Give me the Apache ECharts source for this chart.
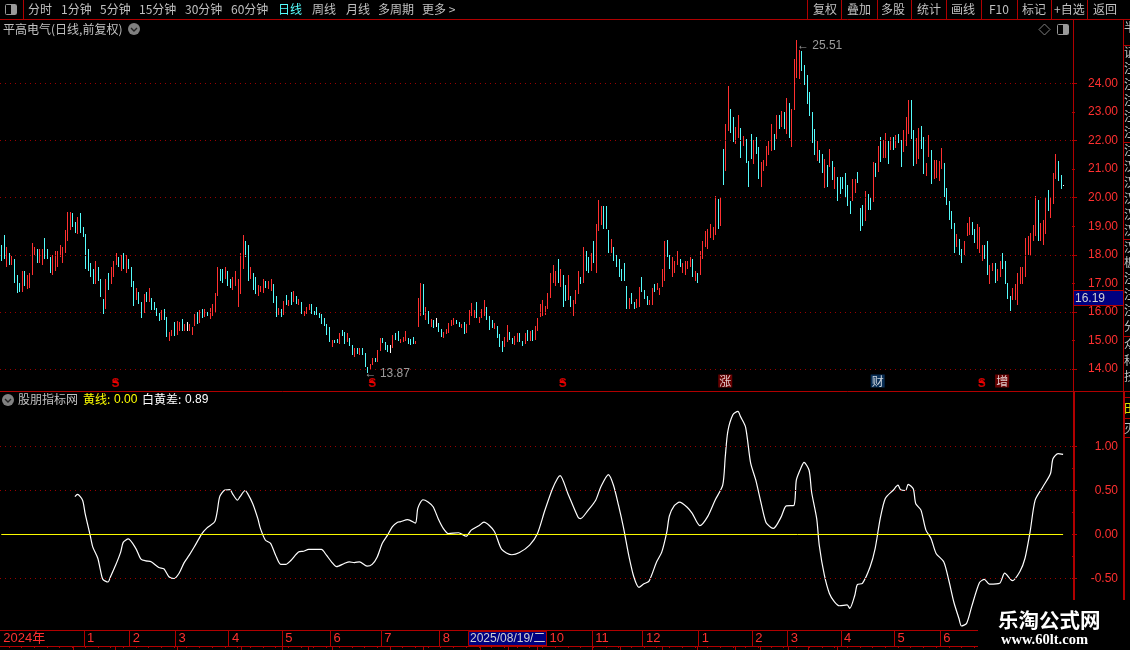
<!DOCTYPE html>
<html>
<head>
<meta charset="utf-8">
<style>html,body{margin:0;padding:0;background:#000;overflow:hidden}#c{width:1130px;height:650px}</style>
<script src="https://cdn.jsdelivr.net/npm/echarts@6/dist/echarts.min.js"></script>
</head>
<body>
<div id="c"></div>
<script>
const highs = [18.35,18.71,18.26,18.05,17.95,17.87,17.28,17.03,17.42,17.45,17.28,17.38,18.43,18.29,18.19,18.22,18.22,18.60,18.19,17.94,17.98,18.15,18.12,18.33,18.29,18.88,19.51,19.51,19.48,19.16,19.34,19.48,18.99,18.74,18.22,17.73,17.49,17.77,17.59,17.14,16.44,17.17,17.35,17.56,17.77,18.08,17.91,18.01,18.08,17.98,17.87,17.56,17.07,16.83,16.69,16.34,16.62,16.69,16.83,16.48,16.34,16.13,15.95,16.06,16.09,15.81,15.29,15.36,15.64,15.67,15.64,15.74,15.57,15.64,15.57,15.47,15.92,16.01,16.06,16.09,16.09,15.99,16.13,16.27,16.65,17.59,17.49,17.49,17.59,17.45,17.14,17.24,17.45,17.17,18.05,18.71,18.50,18.36,17.56,17.38,17.21,16.93,16.90,17.17,17.07,17.10,17.17,16.97,16.55,16.13,16.09,16.37,16.58,16.41,16.69,16.72,16.55,16.44,16.34,16.02,16.16,16.27,16.27,16.02,16.16,15.95,15.92,15.78,15.57,15.47,15.01,15.01,15.05,15.26,15.36,15.29,15.26,15.08,14.84,14.73,14.73,14.73,14.73,14.56,14.07,14.17,14.38,14.38,14.66,15.08,15.08,14.94,14.84,14.84,15.19,15.26,15.33,15.05,15.12,15.33,15.08,15.05,15.12,14.98,16.48,17.00,16.97,16.16,16.02,15.74,15.71,15.78,15.60,15.40,15.29,15.40,15.60,15.71,15.78,15.71,15.64,15.57,15.64,15.57,16.06,16.30,16.06,16.34,15.81,16.09,16.41,16.16,15.85,15.71,15.60,15.50,15.22,14.98,15.12,15.53,15.29,15.08,15.15,15.26,15.26,14.98,15.26,15.36,15.33,15.36,15.50,15.78,16.27,16.41,16.20,16.65,17.35,17.63,17.45,17.87,17.52,17.31,16.93,17.31,16.55,16.41,16.76,17.45,17.21,18.29,18.12,17.94,18.05,18.50,19.09,19.93,19.72,19.72,19.72,18.88,18.57,18.29,17.98,17.87,17.49,17.73,16.90,16.48,16.65,16.34,16.44,16.86,17.21,16.76,16.55,16.41,16.83,16.97,17.03,16.83,17.52,18.47,18.53,17.98,17.94,17.80,18.12,17.84,17.70,17.80,17.80,17.94,17.84,17.45,17.38,18.15,18.50,18.85,18.92,19.09,18.99,20.07,19.97,20.00,21.71,22.58,23.91,23.10,22.83,22.48,22.90,22.44,22.16,22.06,21.29,22.23,22.02,22.13,21.78,21.26,21.33,21.81,21.99,22.58,22.23,22.90,22.90,23.03,23.00,23.49,23.31,23.10,24.85,25.51,25.16,25.13,24.64,24.29,23.70,23.00,22.41,21.99,21.67,21.53,21.36,21.15,21.71,21.29,21.08,20.73,20.73,20.73,20.87,20.45,19.90,20.66,20.66,20.91,19.65,19.76,20.24,20.14,20.00,21.26,21.22,21.81,22.13,22.02,22.27,21.99,22.13,22.13,22.20,22.23,22.02,22.37,22.83,23.42,23.42,22.37,22.09,22.44,22.51,22.13,21.22,22.20,21.67,21.33,21.33,21.29,21.74,21.22,20.35,19.90,19.55,19.13,18.74,18.57,18.19,18.47,19.13,19.34,19.16,18.92,19.09,18.99,18.36,18.33,18.47,17.63,17.73,17.73,17.49,17.77,18.08,17.80,17.00,16.55,16.83,16.97,17.35,17.56,17.56,18.60,18.67,18.78,19.06,20.07,19.93,19.13,19.23,20.00,20.28,20.00,20.87,21.53,21.29,20.80,20.45];
const lows = [17.80,17.84,17.59,17.63,17.63,17.03,16.65,16.69,16.69,16.90,16.79,16.83,17.28,18.01,17.73,17.73,17.66,17.87,17.87,17.38,17.31,17.42,17.56,17.91,17.73,18.05,18.47,18.88,18.99,18.78,18.74,18.78,18.64,17.52,17.45,17.24,16.97,16.97,17.10,16.51,15.92,16.09,16.76,16.97,17.24,17.66,17.59,17.45,17.49,17.38,17.49,16.86,16.20,16.41,16.27,15.78,15.95,16.34,16.34,16.06,16.06,15.85,15.67,15.71,15.71,15.12,14.98,15.15,15.15,15.19,15.33,15.33,15.33,15.33,15.33,15.19,15.50,15.57,15.60,15.78,15.81,15.85,15.74,15.85,15.95,16.55,17.10,17.00,17.17,16.90,16.83,16.76,16.90,16.16,16.62,17.49,17.91,17.07,17.17,16.76,16.62,16.55,16.69,16.65,16.83,16.79,16.72,16.30,15.81,15.88,15.81,15.88,16.23,16.20,16.23,16.34,16.27,16.23,15.92,15.85,15.92,16.06,15.92,15.88,15.88,15.78,15.57,15.50,15.19,14.94,14.77,14.91,14.91,14.87,15.15,14.87,14.94,14.80,14.49,14.42,14.52,14.49,14.49,14.07,13.87,13.97,14.14,14.24,14.24,14.63,14.91,14.66,14.59,14.56,14.73,15.01,14.98,14.91,14.94,14.98,14.87,14.84,14.87,14.87,15.47,15.85,15.88,15.71,15.57,15.47,15.43,15.47,15.29,15.12,15.08,15.22,15.26,15.50,15.53,15.57,15.47,15.43,15.22,15.26,15.53,15.85,15.78,15.78,15.60,15.78,15.85,15.71,15.36,15.43,15.40,15.08,14.77,14.59,14.77,14.94,15.01,14.87,14.84,14.94,14.94,14.80,14.87,14.98,14.98,14.98,15.01,15.33,15.81,15.85,15.88,16.09,16.48,17.03,16.90,17.03,16.86,16.17,16.37,16.41,16.17,15.85,16.27,16.62,16.97,17.03,17.45,17.38,17.45,17.73,17.35,18.85,19.06,18.92,18.92,18.08,18.08,17.80,17.56,17.24,17.10,17.07,16.09,16.09,16.27,16.09,16.13,16.16,16.69,16.44,16.23,16.23,16.23,16.69,16.76,16.58,16.86,17.10,17.91,17.52,17.24,17.38,17.66,17.56,17.35,17.31,17.49,17.56,17.21,17.10,17.03,17.31,17.87,18.29,18.19,18.60,18.53,18.71,18.92,19.02,20.45,20.94,22.34,22.27,21.95,21.88,22.09,21.40,21.81,21.22,20.38,21.36,21.19,21.53,20.66,20.38,20.94,21.12,21.50,21.64,21.67,22.06,22.41,22.48,22.41,22.23,22.09,21.78,23.09,24.21,24.15,24.43,23.94,23.28,22.87,21.92,21.50,21.29,21.22,20.87,20.35,20.38,21.08,20.63,20.31,19.90,20.14,20.31,20.03,19.72,19.44,19.90,20.17,20.52,18.85,19.02,19.20,19.58,19.58,19.86,20.73,20.91,21.26,21.40,21.40,21.19,21.67,21.67,21.74,21.92,21.08,21.60,21.81,22.23,22.06,21.12,21.19,21.36,21.71,20.84,20.77,21.43,20.49,20.66,20.70,20.59,21.01,20.03,19.76,19.23,18.92,18.05,18.29,18.01,17.70,17.98,18.67,18.71,18.71,18.43,18.19,18.08,17.77,17.87,17.31,16.97,17.42,17.00,17.10,17.24,17.49,16.97,16.44,16.02,16.41,16.41,16.23,16.97,16.97,17.24,18.01,18.01,18.47,18.67,18.50,18.50,18.36,18.74,19.55,19.30,19.79,20.66,20.59,20.31,20.41];
// Bars drawn white and bars drawn cyan; every other bar is red.
const whiteBars = [73,153,171,418];
const cyanBars = [0,1,3,5,6,7,9,14,17,18,19,28,29,31,32,33,34,35,36,38,39,40,42,46,48,50,51,52,54,55,57,59,60,61,62,64,65,68,71,77,79,81,86,87,89,90,96,97,99,100,104,107,108,110,112,114,116,118,122,123,124,125,126,127,128,129,131,132,134,135,137,138,140,142,143,144,147,150,151,152,155,156,160,161,162,166,168,170,172,173,179,180,182,187,191,192,193,195,196,197,200,201,204,205,207,209,219,221,222,224,228,230,231,233,237,238,239,241,242,243,244,245,246,248,249,252,253,254,257,262,263,267,272,274,282,284,287,288,291,293,294,295,297,298,304,306,308,310,315,316,317,318,319,320,322,323,325,327,329,330,331,332,333,334,337,338,339,341,342,344,346,349,351,353,354,358,359,362,363,366,371,372,373,374,375,377,378,382,383,387,388,391,394,395,396,397,408,412,416,417];
const signalBars = [45,146,221,285,345,386,394];
const signalTexts = ["S","S","S","涨","财","S","增"];
const extremeBars = [313,144];
const extremePrices = [25.51,13.87];
const priceLabels = [14,15,16,17,18,19,20,21,22,23,24];
const priceGuides = [14,16,18,20,22,24];
// Indicator, read at the visible vertices of the white line
const whiteBarsIdx = [29,30,32,33,35,36,38,39,40,42,43,45,47,48,50,53,55,57,59,62,64,66,68,70,72,74,76,79,81,84,85,86,88,90,91,93,94,96,97,99,101,102,104,106,108,110,112,114,117,119,121,126,128,130,132,135,137,139,141,144,146,148,150,152,154,156,157,160,163,164,166,168,170,172,174,176,180,183,185,188,190,194,197,201,204,208,211,214,217,219,220,223,227,228,231,234,236,239,241,243,245,247,249,251,253,255,258,260,262,263,265,267,270,272,275,278,281,284,285,286,288,290,291,293,295,297,299,301,303,304,307,309,312,313,315,316,318,319,321,322,324,326,328,330,333,334,336,337,339,342,344,346,348,351,353,354,356,357,359,360,362,364,366,368,371,373,375,377,378,380,382,385,387,389,393,395,398,401,403,405,407,410,413,414,416,418];
const whiteValues = [.43,.455,.39,.24,-.01,-.14,-.27,-.40,-.51,-.54,-.48,-.35,-.20,-.09,-.05,-.16,-.28,-.30,-.31,-.375,-.39,-.48,-.50,-.44,-.32,-.235,-.14,.01,.075,.145,.26,.43,.505,.51,.465,.39,.43,.50,.465,.35,.18,.07,-.065,-.10,-.235,-.34,-.34,-.295,-.20,-.19,-.17,-.17,-.235,-.31,-.365,-.33,-.31,-.32,-.31,-.36,-.34,-.255,-.10,-.01,.09,.14,.144,.17,.13,.30,.395,.37,.315,.18,.07,.01,.02,-.02,.05,.10,.14,.04,-.17,-.23,-.205,-.12,.005,.275,.52,.64,.67,.47,.20,.18,.275,.39,.54,.68,.56,.33,.07,-.235,-.48,-.60,-.56,-.53,-.31,-.20,.03,.21,.33,.367,.31,.24,.10,.20,.39,.56,.88,1.17,1.36,1.40,1.34,1.22,.81,.62,.37,.14,.08,.07,.20,.325,.33,.62,.77,.82,.73,.48,.18,-.12,-.46,-.67,-.765,-.81,-.80,-.84,-.69,-.57,-.555,-.37,-.16,.18,.41,.50,.56,.51,.50,.57,.52,.35,.28,.05,-.045,-.215,-.31,-.52,-.77,-.955,-1.04,-1.01,-.82,-.55,-.51,-.565,-.555,-.44,-.525,-.42,-.27,.03,.39,.54,.69,.86,.92,.91];
const yellowBars = [0,418];
const yellowValues = [0,0];
const indicatorLabels = [-0.5,0,0.5,1];
const indicatorMinorTicks = [-0.25,0.25,0.75];
const indicatorGuides = [-0.5,0.5,1];
// Time strip
const monthBars = [0,33,51,69,90,111,130,150,173,215,233,253,275,296,310,331,352,370];
const monthNames = ["2024年","1","2","3","4","5","6","7","8","10","11","12","1","2","3","4","5","6"];
const leftMenu = [["分时",28],["1分钟",61],["5分钟",100],["15分钟",139],["30分钟",185],["60分钟",231],["日线",278],["周线",312],["月线",346],["多周期",378],["更多 >",422]];
const rightMenu = [["复权",813],["叠加",847],["多股",881],["统计",917],["画线",951],["F10",989],["标记",1022],["+自选",1054],["返回",1093]];

const RED='#ff3030',CY='#54fcfc',LN='#b00000',GUIDE='#9a0000',GR='#c0c0c0';
const TOTAL=422;
const cats=[];for(let i=0;i<TOTAL;i++)cats.push(String(i));
const timeCats=cats.map((c,i)=>{const k=monthBars.indexOf(i);return k<0?'':monthNames[k];});
const cyanSet=new Set(cyanBars),whiteSet=new Set(whiteBars);
const barColor=i=>whiteSet.has(i)?'#ffffff':cyanSet.has(i)?CY:RED;
const barData=highs.map((h,i)=>[i,lows[i],h]);
const guide=(arr)=>({silent:true,symbol:'none',animation:false,label:{show:false},
  lineStyle:{color:GUIDE,type:[1,4],width:1},data:arr.map(v=>({yAxis:v}))});

function T(text,x,y,color,size,extra){return {type:'text',z:120,silent:true,
  style:Object.assign({text,x,y,fill:color||GR,font:(size||12)+'px "Noto Sans CJK SC","Liberation Sans"',verticalAlign:'middle'},extra||{})};}
function L(x1,y1,x2,y2,c,w){return{type:'line',z:110,silent:true,shape:{x1,y1,x2,y2},style:{stroke:c||LN,lineWidth:w||1}};}
function R(x,y,w,h,f,s,z){return{type:'rect',z:z||105,silent:true,shape:{x,y,width:w,height:h},style:{fill:f,stroke:s||null,lineWidth:1}};}
const g=[];
// toolbar
g.push(R(0,0,1130,19,'#000'));
g.push(L(0,19.5,1130,19.5));
g.push(L(23.5,0,23.5,19));
[807,841,877,911,946,981,1017,1051,1087].forEach(x=>g.push(L(x+.5,0,x+.5,19)));
g.push({type:'rect',z:120,silent:true,shape:{x:5.5,y:4.5,width:11,height:10,r:1},style:{fill:'#000',stroke:'#999'}});
g.push(R(11,5,5,9,'#999',null,121));
leftMenu.forEach(m=>g.push(T(m[0],m[1],9.5,m[0]==='日线'?'#55ffff':GR)));
rightMenu.forEach(m=>g.push(T(m[0],m[1],9.5,GR)));
// titles
g.push(T('平高电气(日线,前复权)',3,29.5,GR));
g.push({type:'circle',z:120,silent:true,shape:{cx:134,cy:29,r:6},style:{fill:'#808080'}});
g.push({type:'polyline',z:121,silent:true,shape:{points:[[131,28],[134,31],[137,28]]},style:{stroke:'#222',fill:null,lineWidth:1.4}});
g.push({type:'polygon',z:120,silent:true,shape:{points:[[1044.5,24],[1050,29.5],[1044.5,35],[1039,29.5]]},style:{stroke:'#808080',fill:null}});
g.push({type:'rect',z:120,silent:true,shape:{x:1057.5,y:24.5,width:11,height:10,r:1},style:{fill:'#000',stroke:'#999'}});
g.push(R(1063,25,5,9,'#999',null,121));
g.push({type:'circle',z:120,silent:true,shape:{cx:8,cy:400,r:6},style:{fill:'#808080'}});
g.push({type:'polyline',z:121,silent:true,shape:{points:[[5,399],[8,402],[11,399]]},style:{stroke:'#222',fill:null,lineWidth:1.4}});
g.push(T('股朋指标网',18,399.5,GR));
g.push(T('黄线:',83,399.5,'#ffff00'));
g.push(T('0.00',114,399.5,'#ffff00',12,{font:'12px "Liberation Sans"'}));
g.push(T('白黄差:',142,399.5,'#fff'));
g.push(T('0.89',185,399.5,'#fff',12,{font:'12px "Liberation Sans"'}));
// panel frame
g.push(L(0,391.5,1130,391.5));
g.push(L(1073.5,19,1073.5,391));
g.push(L(1074,391,1074,600,LN,2));
g.push(L(1123.5,19,1123.5,391));
g.push(L(1124,391,1124,600,LN,2));
// side strip
[45,142,239,336,397,418,437].forEach(y=>g.push(L(1123,y+.5,1130,y+.5)));
const sideRows=[27,52,68,84,100,116,132,150,166,182,198,214,230,247,262,278,294,310,326,344,360,376];
const sideChars="半证注注注注注注汉汉汉汉汉汉板注注注分众科技".split('');
sideRows.forEach((y,i)=>g.push(T(sideChars[i%sideChars.length],1124,y,GR)));
g.push(T('田',1124,408,'#e0e000'));
g.push(T('灭',1124,428,GR));
// current price tag
g.push(R(1073.5,290.5,50,15,'#000080',LN,112));
g.push(T('16.19',1075,298.5,'#d0d0d0',12,{font:'12px "Liberation Sans"'}));
// time strip frame + cursor
g.push(L(0,630.5,978,630.5));
g.push(L(0,646.5,978,646.5));
[73,115,177,241,282,308,332,390,423,480,508,537,592,620,662,697,735,760,788,808,837].forEach(x=>g.push(L(x+.5,647,x+.5,650)));
g.push(R(468.5,631.5,78,14,'#000080',LN,112));
g.push(T('2025/08/19/二',470,639,'#d0d0d0',12,{font:'12px "Liberation Sans","Noto Sans CJK SC"'}));
// watermark
g.push(R(978,600,152,50,'#000',null,130));
g.push({type:'text',z:131,silent:true,style:{text:'乐淘公式网',x:998,y:620,fill:'#fff',font:'bold 20.5px "Noto Sans CJK SC"',verticalAlign:'middle'}});
g.push({type:'text',z:131,silent:true,style:{text:'www.60lt.com',x:1001,y:640,fill:'#fff',font:'bold 14.5px "Liberation Serif"',verticalAlign:'middle'}});

const signalLabel=(t)=>{
  if(t==='S')return{show:true,position:'inside',offset:[0,3],formatter:'S',color:'#ff0000',fontWeight:'bold',fontSize:12,fontFamily:'Liberation Sans'};
  return{show:true,position:'inside',offset:[0,0],formatter:t,color:'#fff',fontSize:12,fontFamily:'Noto Sans CJK SC',
    backgroundColor:t==='财'?'#0a3a6a':'#800000',padding:[1,1,0,1]};
};

const option={
  backgroundColor:'#000',animation:false,graphic:{elements:g},
  grid:[
    {left:0,top:19,width:1072,height:372},
    {left:0,top:391,width:1072,height:239},
    {left:0,top:630,width:1072,height:16}
  ],
  xAxis:[
    {type:'category',gridIndex:0,data:cats,show:false},
    {type:'category',gridIndex:1,data:cats,show:false},
    {type:'category',gridIndex:2,data:timeCats,position:'top',
      axisLine:{show:false},
      axisTick:{show:true,inside:true,length:2,alignWithLabel:true,lineStyle:{color:LN},interval:(i)=>i%5===3},
      axisLabel:{show:true,inside:true,margin:2,interval:(i,v)=>v!=='',align:'left',padding:[0,0,0,2],color:RED,fontSize:13,
        fontFamily:'Liberation Sans,Noto Sans CJK SC',verticalAlign:'top',hideOverlap:false,showMinLabel:true,showMaxLabel:true},
      splitLine:{show:true,interval:(i,v)=>timeCats[i]!==''&&i>0,lineStyle:{color:LN,width:1}}
    }
  ],
  yAxis:[
    {type:'value',gridIndex:0,position:'right',min:13.23,max:26.26,scale:true,
      axisLine:{show:false},
      axisTick:{show:true,length:5,lineStyle:{color:LN},customValues:priceGuides},
      axisLabel:{show:true,customValues:priceLabels,margin:46,align:'right',color:RED,fontSize:12,fontFamily:'Liberation Sans',formatter:v=>v.toFixed(2)},
      splitLine:{show:false}},
    {type:'value',gridIndex:0,position:'right',min:13.23,max:26.26,
      axisLine:{show:false},axisLabel:{show:false},splitLine:{show:false},
      axisTick:{show:true,length:3,lineStyle:{color:LN},customValues:priceLabels.filter(v=>!priceGuides.includes(v))}},
    {type:'value',gridIndex:1,position:'right',min:-1.0853,max:1.6307,
      axisLine:{show:false},
      axisTick:{show:true,length:5,lineStyle:{color:LN},customValues:indicatorLabels},
      axisLabel:{show:true,customValues:indicatorLabels,margin:46,align:'right',color:RED,fontSize:12,fontFamily:'Liberation Sans',formatter:v=>v.toFixed(2)},
      splitLine:{show:false}},
    {type:'value',gridIndex:1,position:'right',min:-1.0853,max:1.6307,
      axisLine:{show:false},axisLabel:{show:false},splitLine:{show:false},
      axisTick:{show:true,length:3,lineStyle:{color:LN},customValues:indicatorMinorTicks}},
    {type:'value',gridIndex:2,show:false,min:0,max:1}
  ],
  series:[
    {type:'custom',name:'price',xAxisIndex:0,yAxisIndex:0,data:barData,encode:{x:0,y:[1,2]},clip:false,
      renderItem:(params,api)=>{
        const i=api.value(0);
        const lo=api.coord([i,api.value(1)]);
        const hi=api.coord([i,api.value(2)]);
        const x=Math.round(lo[0]);
        const top=Math.round(hi[1]);
        const bottom=Math.max(Math.round(lo[1]),top+1);
        return {type:'rect',shape:{x:x,y:top,width:1,height:bottom-top},style:{fill:barColor(i)}};
      },
      markLine:guide(priceGuides)},
    {type:'scatter',name:'extremes',xAxisIndex:0,yAxisIndex:0,symbol:'circle',symbolSize:1,z:6,
      itemStyle:{color:'transparent'},
      data:extremeBars.map((b,i)=>({value:[b,extremePrices[i]],
        label:{show:true,position:'right',distance:0,offset:i===0?[0,5]:[-3,1],color:GR,fontSize:12,fontFamily:'Liberation Sans',
          formatter:'← '+extremePrices[i].toFixed(2)}}))},
    {type:'scatter',name:'signals',xAxisIndex:0,yAxisIndex:0,z:7,symbol:'triangle',symbolSize:[7,4],symbolOffset:[0,-4],
      itemStyle:{color:'#ff0000'},
      data:signalBars.map((b,i)=>({value:[b,13.44],
        symbolSize:signalTexts[i]==='S'?[7,4]:[1,1],
        label:signalLabel(signalTexts[i])}))},
    {type:'line',name:'白黄差',xAxisIndex:1,yAxisIndex:2,showSymbol:false,smooth:0.25,
      lineStyle:{color:'#fff',width:1.2},
      data:whiteBarsIdx.map((b,i)=>[b,whiteValues[i]]),markLine:guide(indicatorGuides)},
    {type:'line',name:'黄线',xAxisIndex:1,yAxisIndex:2,showSymbol:false,
      lineStyle:{color:'#ffff00',width:1},
      data:yellowBars.map((b,i)=>[b,yellowValues[i]])}
  ]
};
const chart=echarts.init(document.getElementById('c'),null,{renderer:'canvas'});
chart.setOption(option);
</script>
</body>
</html>
